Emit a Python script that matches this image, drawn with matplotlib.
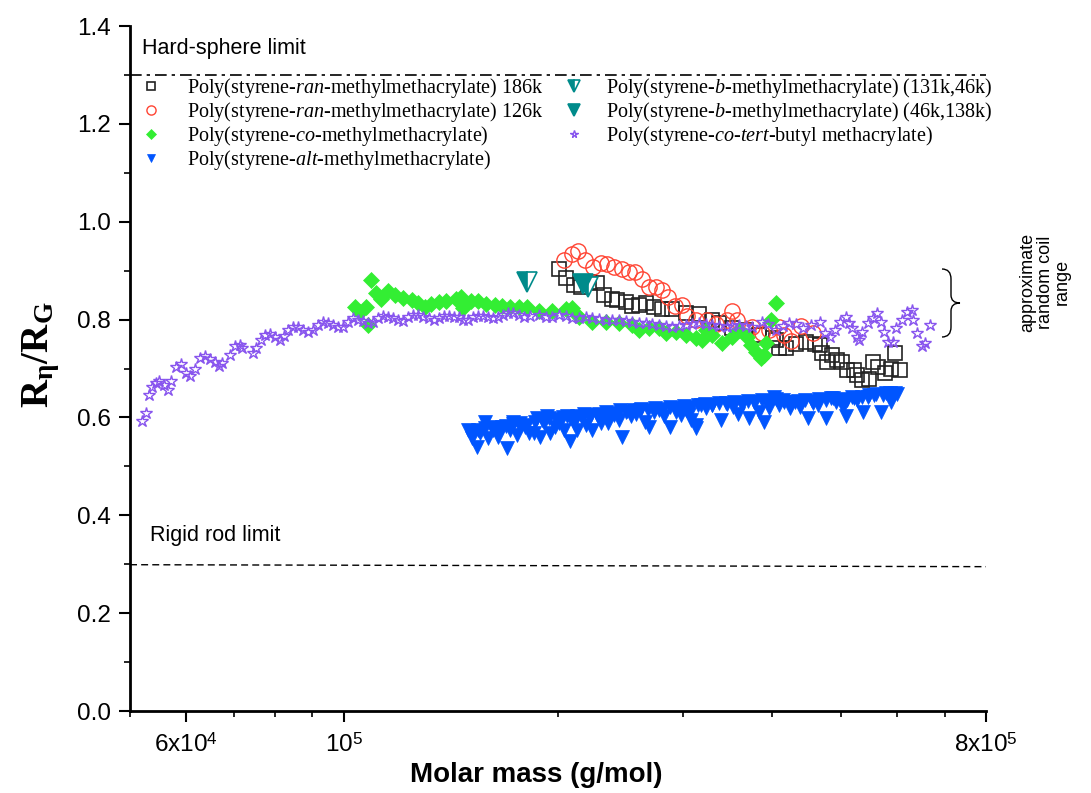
import numpy as np
import matplotlib
matplotlib.use('Agg')
import matplotlib.pyplot as plt
from matplotlib.path import Path
from matplotlib.patches import PathPatch
from matplotlib.ticker import FixedLocator, NullFormatter, MultipleLocator, FormatStrFormatter

plt.rcParams['font.family'] = ['Liberation Sans', 'DejaVu Sans']
plt.rcParams['mathtext.fontset'] = 'custom'
plt.rcParams['mathtext.rm'] = 'Liberation Serif'
plt.rcParams['mathtext.it'] = 'Liberation Serif:italic'
plt.rcParams['mathtext.bf'] = 'Liberation Serif:bold'
plt.rcParams['mathtext.sf'] = 'Liberation Sans'

# ---- data: log10(molar mass / g/mol) and R_eta/R_G ----
# poly(styrene-ran-MMA) 186k
ran186_logM = [5.302, 5.312, 5.323, 5.334, 5.344, 5.356, 5.365, 5.377, 5.384, 5.396,
               5.405, 5.415, 5.425, 5.436, 5.447, 5.461, 5.481, 5.499, 5.518, 5.528,
               5.546, 5.566, 5.584, 5.603, 5.608, 5.612, 5.622, 5.636, 5.650, 5.662,
               5.669, 5.673, 5.680, 5.687, 5.693, 5.701, 5.708, 5.718, 5.722, 5.729,
               5.738, 5.744, 5.751, 5.761, 5.770, 5.775, 5.782]
ran186_r = [0.903, 0.886, 0.871, 0.867, 0.877, 0.875, 0.850, 0.843, 0.840, 0.836,
            0.828, 0.830, 0.834, 0.825, 0.821, 0.821, 0.813, 0.811, 0.799, 0.792,
            0.782, 0.779, 0.768, 0.762, 0.758, 0.741, 0.741, 0.751, 0.755, 0.751,
            0.748, 0.731, 0.714, 0.728, 0.717, 0.714, 0.697, 0.697, 0.687, 0.677,
            0.678, 0.714, 0.704, 0.690, 0.700, 0.731, 0.697]

# poly(styrene-ran-MMA) 126k
ran126_logM = [5.309, 5.320, 5.329, 5.339, 5.350, 5.361, 5.370, 5.380, 5.391, 5.401,
               5.409, 5.419, 5.429, 5.439, 5.447, 5.456, 5.466, 5.476, 5.483, 5.495,
               5.511, 5.523, 5.538, 5.546, 5.553, 5.566, 5.574, 5.588, 5.598, 5.612,
               5.619, 5.629, 5.643, 5.659]
ran126_r = [0.922, 0.935, 0.940, 0.922, 0.907, 0.915, 0.914, 0.907, 0.903, 0.898,
            0.898, 0.882, 0.866, 0.867, 0.860, 0.846, 0.828, 0.830, 0.807, 0.800,
            0.799, 0.791, 0.799, 0.818, 0.800, 0.779, 0.785, 0.772, 0.779, 0.785,
            0.768, 0.757, 0.787, 0.772]

# poly(styrene-co-MMA)
co_logM = [5.016, 5.023, 5.031, 5.034, 5.038, 5.045, 5.052, 5.062, 5.072, 5.083,
           5.095, 5.104, 5.114, 5.123, 5.133, 5.144, 5.157, 5.165, 5.168, 5.178,
           5.189, 5.200, 5.213, 5.222, 5.234, 5.246, 5.257, 5.274, 5.292, 5.312,
           5.320, 5.330, 5.349, 5.368, 5.387, 5.405, 5.415, 5.429, 5.443, 5.453,
           5.467, 5.481, 5.495, 5.504, 5.509, 5.518, 5.532, 5.546, 5.556, 5.567,
           5.573, 5.580, 5.587, 5.591, 5.594, 5.601, 5.608]
co_r = [0.826, 0.816, 0.826, 0.789, 0.881, 0.854, 0.843, 0.858, 0.850, 0.845,
        0.840, 0.833, 0.826, 0.831, 0.836, 0.838, 0.843, 0.847, 0.824, 0.838,
        0.838, 0.831, 0.830, 0.828, 0.826, 0.826, 0.826, 0.818, 0.818, 0.821,
        0.823, 0.806, 0.796, 0.796, 0.792, 0.789, 0.779, 0.782, 0.782, 0.772,
        0.775, 0.768, 0.762, 0.758, 0.779, 0.768, 0.753, 0.765, 0.779, 0.765,
        0.748, 0.734, 0.721, 0.728, 0.753, 0.799, 0.833]

# poly(styrene-alt-MMA): lower, jagged part of the band
alt_logM = [5.175, 5.180, 5.187, 5.191, 5.198, 5.203, 5.210, 5.217, 5.222, 5.229,
            5.234, 5.238, 5.243, 5.248, 5.255, 5.260, 5.267, 5.271, 5.276, 5.281,
            5.285, 5.290, 5.297, 5.302, 5.309, 5.314, 5.318, 5.323, 5.328, 5.335,
            5.340, 5.344, 5.349, 5.356, 5.361, 5.368, 5.372, 5.380, 5.387, 5.391,
            5.396, 5.403, 5.410, 5.417, 5.424, 5.429, 5.436, 5.443, 5.450, 5.459,
            5.467, 5.474, 5.481, 5.488, 5.495,
            5.478, 5.485, 5.495, 5.502, 5.509, 5.518, 5.530, 5.537, 5.547, 5.554,
            5.561, 5.570, 5.577, 5.584, 5.591, 5.598, 5.605, 5.612, 5.619, 5.627,
            5.634, 5.641, 5.652, 5.659, 5.666, 5.678, 5.685, 5.692, 5.702, 5.706,
            5.714, 5.721, 5.730, 5.737, 5.746, 5.756, 5.763, 5.770, 5.775]
alt_r = [0.574, 0.557, 0.540, 0.568, 0.591, 0.557, 0.574, 0.561, 0.581, 0.537,
         0.574, 0.591, 0.564, 0.581, 0.581, 0.568, 0.568, 0.598, 0.561, 0.588,
         0.602, 0.568, 0.581, 0.588, 0.574, 0.602, 0.551, 0.588, 0.574, 0.598,
         0.585, 0.602, 0.574, 0.605, 0.588, 0.598, 0.588, 0.605, 0.595, 0.561,
         0.612, 0.602, 0.608, 0.615, 0.591, 0.581, 0.612, 0.615, 0.602, 0.581,
         0.612, 0.605, 0.615, 0.595, 0.578,
         0.619, 0.608, 0.585, 0.625, 0.619, 0.625, 0.595, 0.629, 0.622, 0.608,
         0.629, 0.598, 0.632, 0.612, 0.591, 0.619, 0.642, 0.625, 0.632, 0.619,
         0.632, 0.622, 0.598, 0.629, 0.625, 0.598, 0.639, 0.632, 0.622, 0.602,
         0.642, 0.636, 0.612, 0.642, 0.646, 0.612, 0.649, 0.632, 0.649]
# same sample, upper edge of the band
alt_top_logM = [5.178, 5.188, 5.198, 5.208, 5.218, 5.228, 5.238, 5.248, 5.258, 5.268,
                5.278, 5.288, 5.298, 5.308, 5.318, 5.328, 5.338, 5.348, 5.358, 5.368,
                5.378, 5.388, 5.398, 5.408, 5.418, 5.428, 5.438, 5.448, 5.458, 5.468,
                5.478, 5.488, 5.498, 5.508, 5.518, 5.528, 5.538, 5.548, 5.558, 5.568,
                5.578, 5.588, 5.598, 5.608, 5.618, 5.628, 5.638, 5.648, 5.658, 5.668,
                5.678, 5.688, 5.698, 5.708, 5.718, 5.728, 5.738, 5.748, 5.758, 5.768,
                5.778]
alt_top_r = [0.570, 0.575, 0.578, 0.580, 0.578, 0.583, 0.586, 0.588, 0.585, 0.590,
             0.595, 0.598, 0.596, 0.600, 0.598, 0.603, 0.606, 0.605, 0.608, 0.612,
             0.610, 0.615, 0.613, 0.616, 0.618, 0.615, 0.620, 0.618, 0.622, 0.620,
             0.624, 0.622, 0.626, 0.628, 0.626, 0.630, 0.628, 0.632, 0.630, 0.634,
             0.632, 0.636, 0.634, 0.638, 0.636, 0.632, 0.634, 0.636, 0.634, 0.638,
             0.636, 0.640, 0.638, 0.636, 0.640, 0.642, 0.645, 0.648, 0.646, 0.650,
             0.648]

# poly(styrene-b-MMA) block copolymers
b1_logM = [5.258, 5.343]
b1_r = [0.877, 0.866]
b2_logM = [5.336]
b2_r = [0.872]

# poly(styrene-co-tert-butyl methacrylate)
tbma_logM = [4.716, 4.721, 4.725, 4.730, 4.735, 4.740, 4.747, 4.753, 4.757, 4.763,
             4.770, 4.777, 4.784, 4.791, 4.797, 4.804, 4.811, 4.818, 4.824, 4.829,
             4.839, 4.846, 4.853, 4.857, 4.872, 4.876, 4.883, 4.889, 4.896, 4.903,
             4.910, 4.915, 4.921, 4.928, 4.935, 4.942, 4.949, 4.956, 4.963, 4.970,
             4.977, 4.984, 4.992, 4.999, 5.006, 5.013, 5.020, 5.027, 5.034, 5.041,
             5.048, 5.055, 5.062, 5.069, 5.076, 5.083, 5.090, 5.097, 5.104, 5.111,
             5.119, 5.126, 5.133, 5.140, 5.147, 5.154, 5.161, 5.168, 5.175, 5.182,
             5.189, 5.196, 5.203, 5.210, 5.217, 5.224, 5.231, 5.238, 5.246, 5.253,
             5.262, 5.274, 5.284, 5.292, 5.302, 5.312, 5.320, 5.330, 5.340, 5.349,
             5.358, 5.368, 5.377, 5.387, 5.396, 5.405, 5.415, 5.425, 5.433, 5.443,
             5.453, 5.461, 5.471, 5.481, 5.490, 5.499, 5.509, 5.518, 5.528, 5.538,
             5.546, 5.556, 5.566, 5.574, 5.588, 5.597, 5.608, 5.617, 5.626, 5.636,
             5.645, 5.657, 5.669, 5.676, 5.683, 5.690, 5.697, 5.706, 5.711, 5.715,
             5.721, 5.724, 5.729, 5.737, 5.744, 5.749, 5.755, 5.759, 5.765, 5.772,
             5.777, 5.785, 5.792, 5.799, 5.801, 5.806, 5.813, 5.817, 5.824]
tbma_r = [0.593, 0.610, 0.646, 0.663, 0.671, 0.674, 0.666, 0.657, 0.675, 0.704,
          0.709, 0.691, 0.685, 0.700, 0.722, 0.726, 0.719, 0.714, 0.705, 0.712,
          0.728, 0.746, 0.748, 0.741, 0.732, 0.741, 0.758, 0.768, 0.770, 0.765,
          0.758, 0.766, 0.779, 0.785, 0.784, 0.779, 0.775, 0.779, 0.789, 0.796,
          0.794, 0.789, 0.785, 0.785, 0.796, 0.803, 0.800, 0.798, 0.792, 0.796,
          0.803, 0.807, 0.806, 0.803, 0.799, 0.798, 0.805, 0.809, 0.809, 0.806,
          0.803, 0.799, 0.803, 0.807, 0.807, 0.806, 0.805, 0.800, 0.799, 0.805,
          0.807, 0.807, 0.805, 0.803, 0.805, 0.809, 0.813, 0.813, 0.809, 0.805,
          0.807, 0.809, 0.806, 0.805, 0.809, 0.807, 0.804, 0.803, 0.805, 0.803,
          0.801, 0.799, 0.800, 0.799, 0.797, 0.796, 0.794, 0.792, 0.790, 0.789,
          0.787, 0.785, 0.787, 0.789, 0.791, 0.792, 0.790, 0.789, 0.787, 0.785,
          0.787, 0.789, 0.787, 0.785, 0.796, 0.790, 0.779, 0.786, 0.792, 0.790,
          0.782, 0.788, 0.796, 0.772, 0.765, 0.779, 0.796, 0.806, 0.792, 0.782,
          0.765, 0.758, 0.775, 0.792, 0.803, 0.813, 0.796, 0.775, 0.755, 0.755,
          0.782, 0.799, 0.816, 0.820, 0.799, 0.772, 0.745, 0.753, 0.789]

hard_sphere = 1.3
rigid_rod = [0.299, 0.295]   # at x = 5e4 and 8e5
x_range = [5e4, 8e5]

labels = ['Poly(styrene-$\\it{ran}$-methylmethacrylate) 186k',
          'Poly(styrene-$\\it{ran}$-methylmethacrylate) 126k',
          'Poly(styrene-$\\it{co}$-methylmethacrylate)',
          'Poly(styrene-$\\it{alt}$-methylmethacrylate)',
          'Poly(styrene-$\\it{b}$-methylmethacrylate) (131k,46k)',
          'Poly(styrene-$\\it{b}$-methylmethacrylate) (46k,138k)',
          'Poly(styrene-$\\it{co}$-$\\it{tert}$-butyl methacrylate)']

xticks_major = [6e4, 1e5, 8e5]
xtick_labels = ['6x10$^{\\mathsf{4}}$', '10$^{\\mathsf{5}}$', '8x10$^{\\mathsf{5}}$']
xticks_minor = [5e4, 7e4, 8e4, 9e4, 2e5, 3e5, 4e5, 5e5, 6e5, 7e5]

# ---- figure ----
fig = plt.figure(figsize=(10.91, 7.93), dpi=100)
ax = fig.add_axes([0.1192, 0.1034, 0.7846, 0.8638])

M = lambda l: 10 ** np.array(l)

blue = '#0055ff'
h4, = ax.plot(M(alt_logM), alt_r, 'v', ms=9.5, mfc=blue, mec=blue, mew=0.5)
ax.plot(M(alt_top_logM), alt_top_r, 'v', ms=9.5, mfc=blue, mec=blue, mew=0.5)
h1, = ax.plot(M(ran186_logM), ran186_r, 's', ms=10, mfc='none', mec='#222222', mew=1.2)
h2, = ax.plot(M(ran126_logM), ran126_r, 'o', ms=11, mfc='none', mec='#ff4433', mew=1.0)
h3, = ax.plot(M(co_logM), co_r, 'D', ms=8, mfc='#33ee33', mec='#33ee33', mew=0.5)
h7, = ax.plot(M(tbma_logM), tbma_r, '*', ms=9, mfc='none', mec='#8855ee', mew=1.0)
h5, = ax.plot(M(b1_logM), b1_r, 'v', ms=14, fillstyle='left', mfc='#008b8b',
              mfcalt='white', mec='#008b8b', mew=1.2)
h6, = ax.plot(M(b2_logM), b2_r, 'v', ms=14, mfc='#008b8b', mec='#008b8b', mew=1.2)

# limit lines
ax.plot(x_range, [hard_sphere, hard_sphere], color='k', lw=1.2, dashes=(7, 3, 2, 3))
ax.plot(x_range, rigid_rod, color='k', lw=1.0, dashes=(5, 3))
ax.text(5.2e4, 1.355, 'Hard-sphere limit', fontsize=15.5, va='center', ha='left')
ax.text(5.33e4, 0.358, 'Rigid rod limit', fontsize=15.5, va='center', ha='left')

# axes setup
ax.set_xscale('log')
ax.set_xlim(x_range)
ax.set_ylim(0, 1.4)
ax.xaxis.set_major_locator(FixedLocator(xticks_major))
ax.xaxis.set_minor_locator(FixedLocator(xticks_minor))
ax.xaxis.set_minor_formatter(NullFormatter())
ax.set_xticklabels(xtick_labels)
ax.yaxis.set_major_locator(MultipleLocator(0.2))
ax.yaxis.set_minor_locator(MultipleLocator(0.1))
ax.yaxis.set_major_formatter(FormatStrFormatter('%.1f'))
for s in ['top', 'right']:
    ax.spines[s].set_visible(False)
for s in ['left', 'bottom']:
    ax.spines[s].set_linewidth(2)
ax.tick_params(which='major', direction='out', length=8, width=1.5, labelsize=17.5, pad=6)
ax.tick_params(which='minor', direction='out', length=4, width=1.2)
ax.tick_params(axis='x', which='major', pad=8)

ax.set_xlabel('Molar mass (g/mol)', fontsize=20, fontweight='bold')
ax.xaxis.set_label_coords(0.475, -0.075)
ax.set_ylabel('$\\mathbf{R_{\\eta}/R_{G}}$', fontsize=28)
ax.yaxis.set_label_coords(-0.08, 0.52)

# legends in two columns
leg_kw = dict(frameon=False, prop={'family': 'Liberation Serif', 'size': 14.5},
              handlelength=1.0, borderpad=0, borderaxespad=0, labelspacing=0.0,
              markerscale=0.6, loc='upper left', bbox_transform=fig.transFigure)
leg1 = ax.legend([h1, h2, h3, h4], labels[:4], handletextpad=1.3,
                 bbox_to_anchor=(141 / 1091, 1 - 76 / 793), **leg_kw)
ax.add_artist(leg1)
ax.legend([h5, h6, h7], labels[4:], handletextpad=1.1,
          bbox_to_anchor=(564 / 1091, 1 - 76 / 793), **leg_kw)

# brace + note on the right
def fp(px, py):
    return (px / 1091, 1 - py / 793)

verts = [fp(942, 269), fp(951, 269), fp(951, 279), fp(951, 295), fp(951, 303), fp(960, 303),
         fp(951, 303), fp(951, 311), fp(951, 327), fp(951, 337), fp(942, 337)]
codes = [Path.MOVETO, Path.CURVE3, Path.CURVE3, Path.LINETO, Path.CURVE3, Path.CURVE3,
         Path.CURVE3, Path.CURVE3, Path.LINETO, Path.CURVE3, Path.CURVE3]
fig.patches.append(PathPatch(Path(verts, codes), transform=fig.transFigure,
                             fill=False, lw=1.0, color='k'))
fig.text(1045 / 1091, 1 - 282 / 793, 'approximate\nrandom coil\nrange', rotation=90,
         ha='center', va='center', fontsize=13, linespacing=1.0, multialignment='center')

fig.savefig('out.png', dpi=100)
